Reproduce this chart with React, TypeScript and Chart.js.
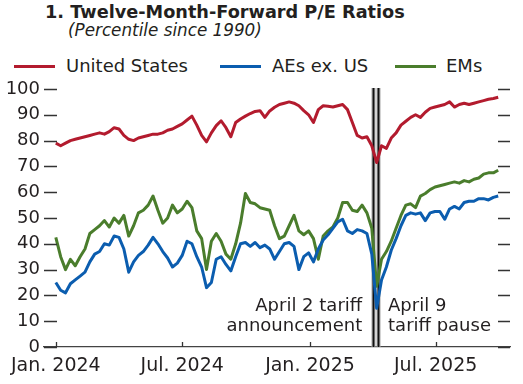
import React, { useEffect, useRef } from "react";
import { Chart, registerables } from "chart.js";

Chart.register(...registerables);

// ---- Data (weekly readings, percentile since 1990) ----
const startDate = "2024-01-01";
const weekCount = 92;
const weekOffsets: number[] = Array.from({ length: weekCount }, (_, i) => i * 7);

const unitedStates: number[] = [
  79, 78, 79, 80, 80.5, 81, 81.5, 82, 82.5, 83,
  82.5, 83.5, 85, 84.5, 82, 80.5, 80, 81, 81.5, 82,
  82.5, 82.5, 83, 84, 84.5, 85.5, 86.5, 88, 89.5, 86,
  82, 79.5, 83, 85.8, 87.7, 85, 81.5, 87, 88.4, 89.5,
  90.5, 91.3, 91.6, 89, 91.5, 92.9, 94, 94.5, 95, 94.5,
  93.5, 91.6, 90, 87, 92, 93.5, 93.3, 93, 93.5, 94,
  92, 87, 82, 81, 81.5, 78, 71.5, 78, 77, 81,
  83, 86, 87.5, 89, 90, 89, 91, 92.5, 93, 93.5,
  94, 95, 93, 94, 94.5, 94, 94.5, 95, 95.5, 96,
  96.3, 96.8,
];

const aesExUs: number[] = [
  25, 22, 21, 24.5, 26, 27.5, 29, 33, 36, 37,
  40, 39.5, 43, 42.5, 38, 29, 33, 35.5, 37, 39.5,
  42.5, 40, 37, 34.5, 31, 32.5, 35.5, 41, 40, 35,
  31, 23, 25, 34, 35, 32, 29.5, 35, 40, 40.5,
  39, 40.5, 38.5, 39.5, 38, 34, 37, 40, 40.5, 39,
  30, 35, 36.5, 33, 38, 41.5, 43.5, 46, 48.5, 49.5,
  45, 44, 45.5, 45, 44, 36, 15, 26, 31, 37.5,
  42, 47, 51, 52, 51.5, 52, 49, 52, 52.5, 52.5,
  49.5, 53.5, 54.5, 53.5, 56, 56.5, 56.5, 57.5, 57.5, 57,
  58, 58.5,
];

const emergingMarkets: number[] = [
  42.5, 35, 30, 34, 31.5, 35, 38, 44, 45.5, 47,
  49, 46.5, 50, 48, 51, 43, 47, 52, 53, 55,
  58.5, 53, 48, 50, 55, 52, 53.5, 56.5, 54, 45,
  42, 30, 41, 44, 41, 36, 34, 40, 48, 59.5,
  56, 55.5, 54, 53.5, 53, 47, 42, 43, 47, 51,
  45, 43.5, 45, 42, 34, 43, 45, 46.5, 50, 56,
  56, 53, 52.5, 55, 52, 46, 23.5, 34, 37, 41,
  46, 51, 55, 55.5, 54, 58.5, 59.5, 61, 62, 62.5,
  63, 63.5, 64, 63.5, 64.5, 64, 65, 65.5, 67, 67.5,
  67.5, 68.5,
];

const seriesNames = ["United States", "AEs ex. US", "EMs"];
const seriesColors = ["#B31B2E", "#0B5DAF", "#4A7D2C"];

const xTickDates = ["2024-01-01", "2024-07-01", "2025-01-01", "2025-07-01"];
const xTickLabels = ["Jan. 2024", "Jul. 2024", "Jan. 2025", "Jul. 2025"];
const yTickValues = [0, 10, 20, 30, 40, 50, 60, 70, 80, 90, 100];

const eventDates = ["2025-04-02", "2025-04-09"];
const eventLabels = [
  ["April 2 tariff", "announcement"],
  ["April 9", "tariff pause"],
];

const xMinDate = "2023-12-15";
const xMaxDate = "2025-10-16";

// ---- helpers ----
const DAY_MS = 86400000;
const dayOf = (iso: string) => (Date.parse(iso) - Date.parse(startDate)) / DAY_MS;

const FONT = "'DejaVu Sans', sans-serif";
const TEXT = "#231F20";

const decorPlugin = {
  id: "decor",
  beforeDatasetsDraw(chart: any) {
    const { ctx, chartArea, scales } = chart;
    const x = scales.x;
    ctx.save();
    eventDates.forEach((d) => {
      const px = Math.round(x.getPixelForValue(dayOf(d))) + 0.5;
      ctx.beginPath();
      ctx.moveTo(px, chartArea.top - 1);
      ctx.lineTo(px, chartArea.bottom);
      ctx.strokeStyle = "#A8A8A8";
      ctx.lineWidth = 4;
      ctx.stroke();
      ctx.beginPath();
      ctx.moveTo(px, chartArea.top - 1);
      ctx.lineTo(px, chartArea.bottom);
      ctx.strokeStyle = "#111";
      ctx.lineWidth = 1.8;
      ctx.stroke();
    });
    ctx.restore();
  },
  afterDraw(chart: any) {
    const { ctx, chartArea, scales } = chart;
    const x = scales.x;
    const y = scales.y;
    ctx.save();
    ctx.strokeStyle = "#333";
    ctx.lineWidth = 1.3;
    yTickValues.forEach((v) => {
      const py = Math.round(y.getPixelForValue(v)) + 0.5;
      ctx.beginPath();
      ctx.moveTo(chartArea.left, py);
      ctx.lineTo(chartArea.left + 13, py);
      ctx.moveTo(chartArea.right - 12, py);
      ctx.lineTo(chartArea.right, py);
      ctx.stroke();
    });
    xTickDates.forEach((d) => {
      const px = Math.round(x.getPixelForValue(dayOf(d))) + 0.5;
      ctx.beginPath();
      ctx.moveTo(px, chartArea.bottom);
      ctx.lineTo(px, chartArea.bottom - 5);
      ctx.stroke();
    });
    ctx.fillStyle = TEXT;
    ctx.font = `18px ${FONT}`;
    ctx.textBaseline = "middle";
    const p0 = x.getPixelForValue(dayOf(eventDates[0]));
    const p1 = x.getPixelForValue(dayOf(eventDates[1]));
    ctx.textAlign = "right";
    ctx.fillText(eventLabels[0][0], p0 - 11, 306);
    ctx.fillText(eventLabels[0][1], p0 - 11, 326);
    ctx.textAlign = "left";
    ctx.fillText(eventLabels[1][0], p1 + 10, 306);
    ctx.fillText(eventLabels[1][1], p1 + 10, 326);
    ctx.restore();
  },
};

export default function App() {
  const canvasRef = useRef<HTMLCanvasElement | null>(null);

  useEffect(() => {
    if (!canvasRef.current) return;
    const mk = (vals: number[]) => weekOffsets.map((d, i) => ({ x: d, y: vals[i] }));
    const chart = new Chart(canvasRef.current, {
      type: "line",
      data: {
        datasets: [
          { label: seriesNames[0], data: mk(unitedStates), borderColor: seriesColors[0] },
          { label: seriesNames[1], data: mk(aesExUs), borderColor: seriesColors[1] },
          { label: seriesNames[2], data: mk(emergingMarkets), borderColor: seriesColors[2] },
        ].map((ds) => ({
          ...ds,
          borderWidth: 3,
          pointRadius: 0,
          tension: 0,
          fill: false,
          borderJoinStyle: "round" as const,
        })),
      },
      options: {
        responsive: false,
        animation: false,
        events: [],
        layout: { padding: { top: 89, right: 13, left: 0, bottom: 0 } },
        plugins: {
          legend: { display: false },
          title: { display: false },
          tooltip: { enabled: false },
        },
        scales: {
          x: {
            type: "linear",
            min: dayOf(xMinDate),
            max: dayOf(xMaxDate),
            grid: { display: false, drawTicks: false },
            border: { display: true, color: "#444", width: 1.3 },
            afterFit: (s: any) => {
              s.height = 37;
            },
            afterBuildTicks: (s: any) => {
              s.ticks = xTickDates.map((d) => ({ value: dayOf(d) }));
            },
            ticks: {
              autoSkip: false,
              maxRotation: 0,
              padding: 8,
              color: TEXT,
              font: { family: FONT, size: 19 },
              callback: (v: any) => {
                const i = xTickDates.findIndex((d) => Math.abs(dayOf(d) - v) < 0.01);
                return i >= 0 ? xTickLabels[i] : "";
              },
            },
          },
          y: {
            min: 0,
            max: 100,
            grid: { display: false, drawTicks: false },
            border: { display: false },
            afterFit: (s: any) => {
              s.width = 44;
            },
            afterBuildTicks: (s: any) => {
              s.ticks = yTickValues.map((v) => ({ value: v }));
            },
            ticks: {
              padding: 4,
              color: TEXT,
              font: { family: FONT, size: 18 },
            },
          },
        },
      },
      plugins: [decorPlugin],
    });
    return () => chart.destroy();
  }, []);

  const legendItems = [
    { lineLeft: 14, textLeft: 66 },
    { lineLeft: 220, textLeft: 272 },
    { lineLeft: 395, textLeft: 446 },
  ];

  return (
    <div
      style={{
        position: "fixed",
        left: 0,
        top: 0,
        width: 523,
        height: 384,
        background: "#fff",
        fontFamily: FONT,
        color: TEXT,
        overflow: "hidden",
      }}
    >
      <div
        style={{
          position: "absolute",
          left: 45,
          top: 1,
          fontSize: 17.7,
          lineHeight: "22px",
          fontWeight: "bold",
          whiteSpace: "nowrap",
        }}
      >
        1. Twelve-Month-Forward P/E Ratios
      </div>
      <div
        style={{
          position: "absolute",
          left: 68,
          top: 20,
          fontSize: 16.8,
          lineHeight: "20px",
          fontStyle: "italic",
          whiteSpace: "nowrap",
        }}
      >
        (Percentile since 1990)
      </div>
      {legendItems.map((it, i) => (
        <React.Fragment key={i}>
          <div
            style={{
              position: "absolute",
              left: it.lineLeft,
              top: 65,
              width: 41,
              height: 3,
              background: seriesColors[i],
            }}
          />
          <div
            style={{
              position: "absolute",
              left: it.textLeft,
              top: 55,
              fontSize: 18,
              lineHeight: "22px",
              whiteSpace: "nowrap",
            }}
          >
            {seriesNames[i]}
          </div>
        </React.Fragment>
      ))}
      <canvas
        ref={canvasRef}
        width={523}
        height={384}
        style={{ position: "absolute", left: 0, top: 0, width: 523, height: 384 }}
      />
    </div>
  );
}
